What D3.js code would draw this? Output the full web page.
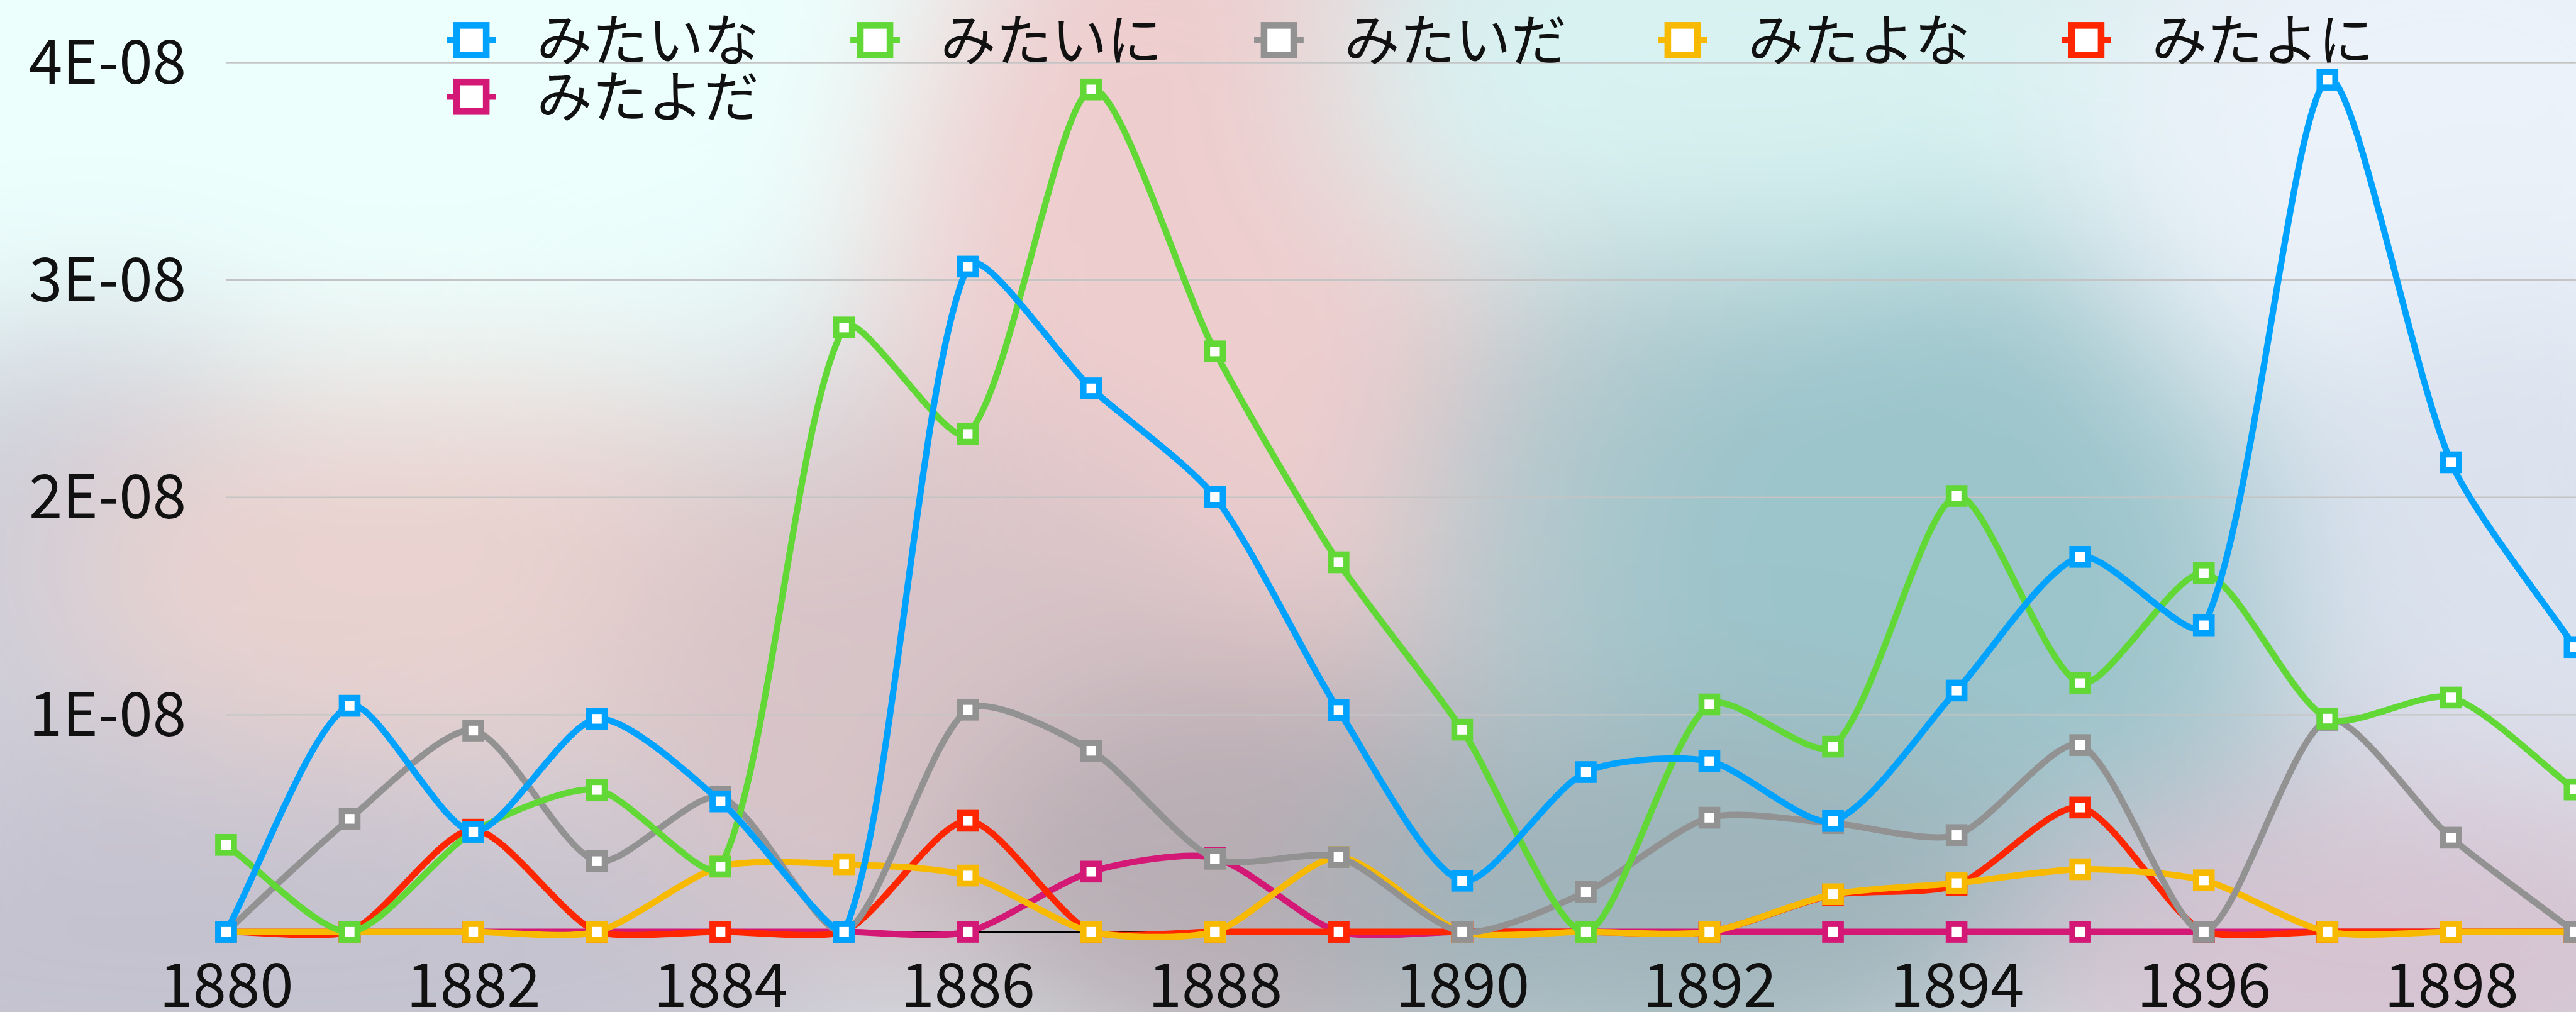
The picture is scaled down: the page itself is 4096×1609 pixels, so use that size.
<!DOCTYPE html>
<html>
<head>
<meta charset="utf-8">
<script src="https://cdn.jsdelivr.net/npm/d3@7"></script>
<style>
  html, body { margin: 0; padding: 0; overflow: hidden; background: #dfe9ec; }
</style>
</head>
<body>
<div id="chart"></div>
<script>

// ---- data ----
const years = [1880, 1881, 1882, 1883, 1884, 1885, 1886, 1887, 1888, 1889,
               1890, 1891, 1892, 1893, 1894, 1895, 1896, 1897, 1898, 1899];

const mitaina  = [0, 1.04e-8, 0.46e-8, 0.98e-8, 0.60e-8, 0, 3.06e-8, 2.50e-8, 2.00e-8, 1.02e-8,
                  0.235e-8, 0.735e-8, 0.785e-8, 0.51e-8, 1.11e-8, 1.725e-8, 1.41e-8, 3.92e-8, 2.16e-8, 1.31e-8];
const mitaini  = [0.40e-8, 0, 0.46e-8, 0.653e-8, 0.30e-8, 2.78e-8, 2.29e-8, 3.875e-8, 2.67e-8, 1.70e-8,
                  0.93e-8, 0, 1.046e-8, 0.852e-8, 2.005e-8, 1.144e-8, 1.65e-8, 0.981e-8, 1.078e-8, 0.655e-8];
const mitaida  = [0, 0.52e-8, 0.926e-8, 0.325e-8, 0.62e-8, 0, 1.022e-8, 0.833e-8, 0.336e-8, 0.344e-8,
                  0, 0.183e-8, 0.525e-8, 0.50e-8, 0.445e-8, 0.859e-8, 0, 0.975e-8, 0.433e-8, 0];
const mitayona = [0, 0, 0, 0, 0.30e-8, 0.311e-8, 0.259e-8, 0, 0, 0.344e-8,
                  0, 0, 0, 0.173e-8, 0.224e-8, 0.288e-8, 0.237e-8, 0, 0, 0];
const mitayoni = [0, 0, 0.47e-8, 0, 0, 0, 0.511e-8, 0, 0, 0,
                  0, 0, 0, 0.17e-8, 0.215e-8, 0.572e-8, 0, 0, 0, 0];
const mitayoda = [0, 0, 0, 0, 0, 0, 0, 0.277e-8, 0.34e-8, 0,
                  0, 0, 0, 0, 0, 0, 0, 0, 0, 0];

const seriesNames  = ["みたいな", "みたいに", "みたいだ", "みたよな", "みたよに", "みたよだ"];
const seriesValues = [mitaina, mitaini, mitaida, mitayona, mitayoni, mitayoda];
const seriesColors = ["#00a2ff", "#61d836", "#929292", "#f8ba00", "#ff2600", "#d41876"];

const xTickValues = [1880, 1882, 1884, 1886, 1888, 1890, 1892, 1894, 1896, 1898];
const yTickValues = [1e-8, 2e-8, 3e-8, 4e-8];
const yTickLabels = ["1E-08", "2E-08", "3E-08", "4E-08"];

// ---- sizes (reference pixels, scaled down at the end) ----
const W = 4262, H = 1674, k = 0.961;
const plotL = 374, plotR = 4260, plotT = 103, plotB = 1541.7;
const font = "'Noto Sans CJK JP', 'Noto Sans', sans-serif";

const svg = d3.select("#chart")
  .append("svg")
    .attr("width", 4096)
    .attr("height", 1609);

const root = svg.append("g").attr("transform", `scale(${k})`);

// ---- soft blurred backdrop ----
const defs = svg.append("defs");
defs.append("filter")
    .attr("id", "soft")
    .attr("x", "-30%").attr("y", "-30%")
    .attr("width", "160%").attr("height", "160%")
  .append("feGaussianBlur")
    .attr("stdDeviation", 140);

root.append("rect").attr("width", W).attr("height", H).attr("fill", "#d9e4e8");

const blobs = [
  {cx: 400,  cy: 100,  rx: 1400, ry: 560, c: "#ecfffd"},
  {cx: 150,  cy: 950,  rx: 500,  ry: 420, c: "#cdcdd8"},
  {cx: 750,  cy: 950,  rx: 650,  ry: 330, c: "#e9d2cf"},
  {cx: 400,  cy: 1600, rx: 1100, ry: 330, c: "#c4c2cf"},
  {cx: 1950, cy: 550,  rx: 500,  ry: 850, c: "#eecdce"},
  {cx: 1550, cy: 1150, rx: 550,  ry: 450, c: "#d8c4c8"},
  {cx: 2150, cy: 1450, rx: 600,  ry: 360, c: "#b8adb4"},
  {cx: 2900, cy: 130,  rx: 700,  ry: 360, c: "#d8f2f2"},
  {cx: 2750, cy: 900,  rx: 420,  ry: 500, c: "#b3c8cd"},
  {cx: 3250, cy: 950,  rx: 600,  ry: 560, c: "#9bc5cb"},
  {cx: 2800, cy: 1500, rx: 600,  ry: 300, c: "#9fb3ba"},
  {cx: 4050, cy: 250,  rx: 600,  ry: 520, c: "#ebf2f9"},
  {cx: 4150, cy: 900,  rx: 420,  ry: 420, c: "#dbe2ee"},
  {cx: 3950, cy: 1580, rx: 620,  ry: 300, c: "#d6c3d1"}
];

root.append("g")
    .attr("filter", "url(#soft)")
  .selectAll("ellipse")
  .data(blobs)
  .join("ellipse")
    .attr("cx", d => d.cx).attr("cy", d => d.cy)
    .attr("rx", d => d.rx).attr("ry", d => d.ry)
    .attr("fill", d => d.c);

// ---- scales ----
const x = d3.scaleLinear().domain([1880, 1899]).range([plotL, plotR]);
const y = d3.scaleLinear().domain([0, 4e-8]).range([plotB, plotT]);

// grid + y labels
const yAxis = root.append("g")
    .attr("transform", `translate(${plotL},0)`)
    .call(d3.axisLeft(y)
      .tickValues(yTickValues)
      .tickFormat((d, i) => yTickLabels[i])
      .tickSizeInner(-(W - plotL))
      .tickSizeOuter(0)
      .tickPadding(66));
yAxis.select(".domain").remove();
yAxis.selectAll(".tick line").attr("stroke", "#c4c4c4").attr("stroke-width", 2.5);
yAxis.selectAll(".tick text")
    .attr("font-family", font)
    .attr("font-size", 100)
    .attr("fill", "#111")
    .attr("dy", "0.35em");

// x labels + base line
const xAxis = root.append("g")
    .attr("transform", `translate(0,${plotB})`)
    .call(d3.axisBottom(x)
      .tickValues(xTickValues)
      .tickFormat(d3.format("d"))
      .tickSize(0)
      .tickPadding(53));
xAxis.select(".domain").attr("stroke", "#000").attr("stroke-width", 3);
xAxis.selectAll(".tick text")
    .attr("font-family", font)
    .attr("font-size", 100)
    .attr("fill", "#111");

// ---- smoothed line (spline with capped control points) ----
const tension = 0.25;
function smoothPath(pts) {
  const n = pts.length;
  const cap = p => [Math.max(plotL, Math.min(plotR, p[0])), Math.max(plotT, Math.min(plotB + 12, p[1]))];
  const cps = pts.map((p, i) => {
    const a = pts[Math.max(i - 1, 0)], b = pts[Math.min(i + 1, n - 1)];
    const d01 = Math.hypot(p[0] - a[0], p[1] - a[1]);
    const d12 = Math.hypot(b[0] - p[0], b[1] - p[1]);
    const s = d01 + d12 || 1;
    const fa = tension * d01 / s, fb = tension * d12 / s;
    return [
      cap([p[0] - fa * (b[0] - a[0]), p[1] - fa * (b[1] - a[1])]),
      cap([p[0] + fb * (b[0] - a[0]), p[1] + fb * (b[1] - a[1])])
    ];
  });
  let d = `M${pts[0][0]},${pts[0][1]}`;
  for (let i = 1; i < n; i++) {
    d += `C${cps[i - 1][1][0]},${cps[i - 1][1][1]} ${cps[i][0][0]},${cps[i][0][1]} ${pts[i][0]},${pts[i][1]}`;
  }
  return d;
}

// later series underneath, the first one on top
const order = d3.range(seriesNames.length).reverse();
const plot = root.append("g");

order.forEach(function(s) {
  const pts = years.map((yr, i) => [x(yr), y(seriesValues[s][i])]);
  const g = plot.append("g");

  g.append("path")
      .attr("d", smoothPath(pts))
      .attr("fill", "none")
      .attr("stroke", seriesColors[s])
      .attr("stroke-width", 10.5);

  g.selectAll("rect")
    .data(pts)
    .join("rect")
      .attr("x", d => d[0] - 13)
      .attr("y", d => d[1] - 13)
      .attr("width", 26)
      .attr("height", 26)
      .attr("fill", "#fff")
      .attr("stroke", seriesColors[s])
      .attr("stroke-width", 10);
});

// ---- legend ----
const legend = root.append("g");
const legX0 = 780, legStep = 668, legY = [66.5, 160];

seriesNames.forEach(function(name, i) {
  const cx = legX0 + (i % 5) * legStep;
  const cy = legY[Math.floor(i / 5)];
  const item = legend.append("g").attr("transform", `translate(${cx},${cy})`);
  item.append("line")
      .attr("x1", -41).attr("x2", 41)
      .attr("stroke", seriesColors[i])
      .attr("stroke-width", 10);
  item.append("rect")
      .attr("x", -24.5).attr("y", -24.5)
      .attr("width", 49).attr("height", 49)
      .attr("fill", "#fff")
      .attr("stroke", seriesColors[i])
      .attr("stroke-width", 11);
  item.append("text")
      .attr("x", 108)
      .attr("dy", "0.36em")
      .attr("font-family", font)
      .attr("font-size", 92)
      .attr("fill", "#111")
      .text(name);
});

</script>
</body>
</html>
